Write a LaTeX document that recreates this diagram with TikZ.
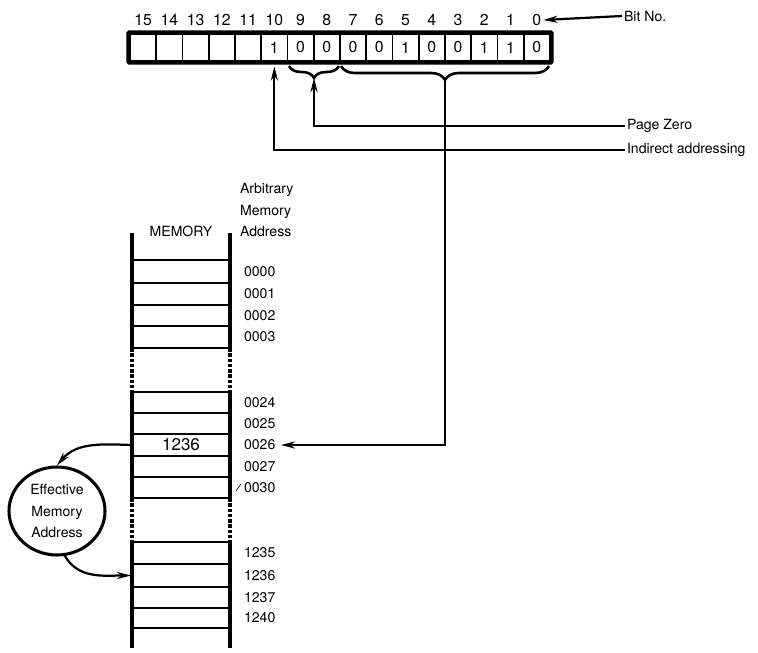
\documentclass[tikz,border=0pt]{standalone}
\usepackage{fontspec}
\setmainfont{TeX Gyre Heros}
\usetikzlibrary{arrows.meta,shapes.geometric,decorations.pathreplacing}

\begin{document}
\begin{tikzpicture}[x=0.03cm,y=-0.03cm,>={Stealth[length=12pt,width=6pt]},line width=1.5pt,
                    cell/.style={draw,line width=1.3pt,minimum width=0.7875cm,minimum height=0.81cm,inner sep=0pt,font=\fontsize{13.5}{13.5}\selectfont},
                    bitnum/.style={inner sep=1pt,font=\fontsize{13.5}{13.5}\selectfont},
                    sidetext/.style={anchor=west,inner sep=1pt,align=left,font=\fontsize{12}{18}\selectfont},
                    addr/.style={anchor=west,inner sep=1pt,font=\fontsize{12}{12}\selectfont},
                    memcell/.style={minimum width=2.94cm,minimum height=0.63cm,inner sep=0pt,font=\fontsize{14.5}{14.5}\selectfont},
                    bitbrace/.style={decorate,line width=2.2pt,decoration={brace,mirror,amplitude=#1}},
                    link/.style={line width=1.9pt},
                    wall/.style={line width=2.8pt}]
\useasboundingbox (0,0) rectangle (758,653);
%%%%% instruction register
\foreach \b in {15,...,0}
  \node[bitnum] (n\b) at ({130+26.25*(15.5-\b)},20) {\b};
\foreach \b in {15,...,11}
  \node[cell] (c\b) at ({130+26.25*(15.5-\b)},47.5) {};
\foreach \b/\v in {10/1,9/0,8/0,7/0,6/0,5/1,4/0,3/0,2/1,1/1,0/0}
  \node[cell] (c\b) at ({130+26.25*(15.5-\b)},47.5) {\v};
\draw[line width=2.8pt,rounded corners=1pt] (128,32) rectangle (552,63);
\node[sidetext] (bitno) at (622,16) {Bit No.};
\draw[link,->] (bitno.west) -- (n0.east);
%%%%% braces
\draw[bitbrace=0.36cm] (289,66) -- (339,66);
\coordinate (tipA) at (314,78);
\draw[bitbrace=0.42cm] (341,66) -- (549,66);
\coordinate (tipB) at (445,80);
%%%%% labels on the right
\node[sidetext] (pz) at (625,126) {Page Zero};
\node[sidetext] (ia) at (625,150) {Indirect addressing};
\draw[link,->] (pz.west) -| (tipA);
\draw[link,->,shorten >=4pt] (ia.west) -| (c10.south);
%%%%% memory
\node[font=\fontsize{12}{12}\selectfont] (mem) at (181,231) {MEMORY};
\node[sidetext] (arb) at (238,210) {Arbitrary\\Memory\\Address};
\foreach \x in {132,230} {
  \draw[wall] (\x,233) -- (\x,348);
  \draw[wall,dash pattern=on 3pt off 1.5pt] (\x,348) -- (\x,392);
  \draw[wall] (\x,392) -- (\x,498);
  \draw[wall,dash pattern=on 3pt off 1.5pt] (\x,498) -- (\x,542);
  \draw[wall] (\x,542) -- (\x,648);
}
\foreach \y in {260,283,305,326,348,392,413,434,456,477,498,542,564,587,608,628}
  \draw (132,\y) -- (230,\y);
\foreach \a/\y in {0000/271.5,0001/294,0002/315.5,0003/337,0024/402.5,0025/423.5,0026/445,0027/466.5,0030/487.5,1235/553,1236/575.5,1237/597.5,1240/618}
  \node[addr] (a\a) at (242,\y) {\a};
\draw[line width=0.5pt] (236,491) -- (241,484);
\node[memcell] (m0026) at (181,445) {1236};
\node[memcell] (m1236) at (181,575.5) {};
%%%%% address path
\draw[link,->,shorten >=3pt] (tipB) |- (a0026.east);
\node[ellipse,draw,line width=2.6pt,minimum width=2.88cm,minimum height=2.64cm,align=center,
      inner sep=0pt,font=\fontsize{12}{18}\selectfont] (ema) at (57,511) {Effective\\Memory\\Address};
\draw[link,->] (m0026.west) to[out=178,in=50] (ema.north);
\draw[link,->] (ema.-80) to[out=-60,in=180] (m1236.west);
\end{tikzpicture}
\end{document}
